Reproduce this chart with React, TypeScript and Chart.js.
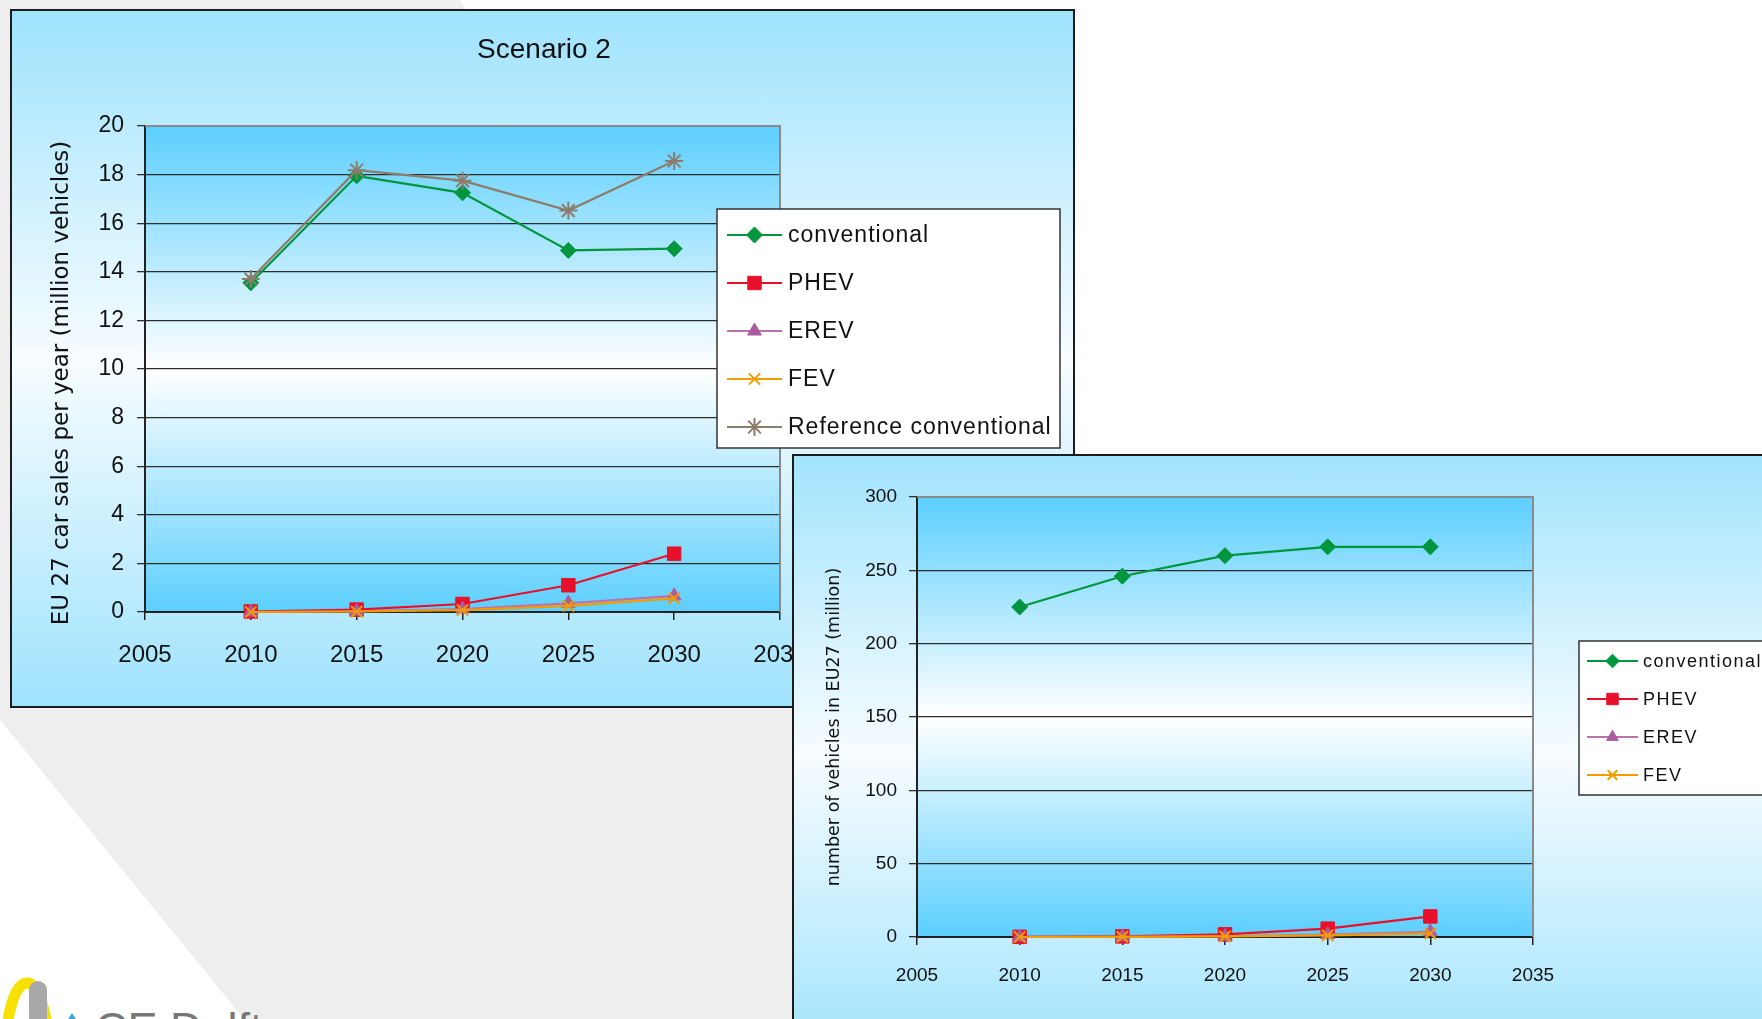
import React, { useEffect, useRef } from 'react';
import { Chart, registerables } from 'chart.js';
import { drawPoint } from 'chart.js/helpers';

Chart.register(...registerables);

// ---- data ---------------------------------------------------------------

const YEARS = [2010, 2015, 2020, 2025, 2030];
const YEAR_TICKS = [2005, 2010, 2015, 2020, 2025, 2030, 2035];

// Scenario 2: EU27 car sales per year (million vehicles)
const SALES_CONVENTIONAL = [13.55, 17.95, 17.25, 14.88, 14.95];
const SALES_PHEV = [0.02, 0.1, 0.33, 1.1, 2.4];
const SALES_EREV = [0.0, 0.03, 0.12, 0.36, 0.66];
const SALES_FEV = [0.0, 0.02, 0.08, 0.25, 0.56];
const SALES_REFERENCE = [13.7, 18.18, 17.75, 16.52, 18.56];
const SALES_TICKS = [0, 2, 4, 6, 8, 10, 12, 14, 16, 18, 20];

// Number of vehicles in EU27 (million)
const FLEET_CONVENTIONAL = [225, 246, 260, 266, 266];
const FLEET_PHEV = [0.1, 0.4, 1.8, 5.7, 14];
const FLEET_EREV = [0.0, 0.1, 0.5, 1.6, 3.5];
const FLEET_FEV = [0.0, 0.1, 0.4, 1.1, 2.5];
const FLEET_TICKS = [0, 50, 100, 150, 200, 250, 300];

const SERIES_LABELS = ['conventional', 'PHEV', 'EREV', 'FEV', 'Reference conventional'];
const SALES_TITLE = 'Scenario 2';
const SALES_AXIS_TITLE = 'EU 27 car sales per year (million vehicles)';
const FLEET_AXIS_TITLE = 'number of vehicles in EU27 (million)';
const LOGO_TEXT = 'CE Delft';

// ---- styling ------------------------------------------------------------

const SANS = "'Liberation Sans', Arial, sans-serif";
const WIDE = "'DejaVu Sans', Verdana, sans-serif";

const SERIES_STYLE = [
  { line: '#00963e', fill: '#00963e', stroke: '#00963e', shape: 'rectRot', radius: 8, bw: 1 },
  { line: '#e8102a', fill: '#e8102a', stroke: '#e8102a', shape: 'rect', radius: 9.5, bw: 1 },
  { line: '#bb72ae', fill: '#ab5c9e', stroke: '#ab5c9e', shape: 'triangle', radius: 8, bw: 1 },
  { line: '#f39c00', fill: 'rgba(0,0,0,0)', stroke: '#f39c00', shape: 'crossRot', radius: 8, bw: 2 },
  { line: '#8c7c6a', fill: 'rgba(0,0,0,0)', stroke: '#8c7c6a', shape: 'star', radius: 9, bw: 2 },
];

function makeDatasets(valueSets: number[][]) {
  return valueSets.map((vals, i) => {
    const st = SERIES_STYLE[i];
    return {
      label: SERIES_LABELS[i],
      data: YEARS.map((x, k) => ({ x, y: vals[k] })),
      borderColor: st.line,
      backgroundColor: st.fill,
      borderWidth: 2.2,
      pointStyle: st.shape,
      pointRadius: st.radius,
      pointHoverRadius: st.radius,
      pointBackgroundColor: st.fill,
      pointBorderColor: st.stroke,
      pointBorderWidth: st.bw,
      tension: 0,
      clip: false,
      order: valueSets.length - i,
    };
  });
}

interface LegendLayout {
  left: number; top: number; right: number; bottom: number;
  firstRow: number; rowGap: number; lineX1: number; lineX2: number; textX: number;
  font: string; spacing: string; markerScale: number;
}

interface PanelLayout {
  width: number; height: number;
  area: { left: number; top: number; right: number; bottom: number };
  xHeight: number;
  tickSize: number; yTickSize: number; xPad: number; yPad: number;
  yMax: number; yTicks: number[];
  title?: string; titleFont?: string; titleX?: number; titleY?: number;
  axisTitle: string; axisTitleFont: string; axisTitleX: number; axisTitleY: number;
  legend: LegendLayout;
}

function decorPlugin(L: PanelLayout) {
  return {
    id: 'decor',
    beforeDraw(chart: any) {
      const { ctx, chartArea: a } = chart;
      const g = ctx.createLinearGradient(0, a.top, 0, a.bottom);
      g.addColorStop(0, '#5ccfff');
      g.addColorStop(0.5, '#ffffff');
      g.addColorStop(1, '#5ccfff');
      ctx.save();
      ctx.fillStyle = g;
      ctx.fillRect(a.left, a.top, a.right - a.left, a.bottom - a.top);
      ctx.restore();
    },
    beforeDatasetsDraw(chart: any) {
      const { ctx, chartArea: a } = chart;
      ctx.save();
      ctx.strokeStyle = '#8a8a8a';
      ctx.lineWidth = 2;
      ctx.beginPath();
      ctx.moveTo(a.left, a.top);
      ctx.lineTo(a.right, a.top);
      ctx.lineTo(a.right, a.bottom);
      ctx.stroke();
      ctx.restore();
    },
    afterDraw(chart: any) {
      const ctx = chart.ctx as CanvasRenderingContext2D;
      ctx.save();
      ctx.fillStyle = '#111';
      ctx.textAlign = 'center';
      ctx.textBaseline = 'middle';
      if (L.title) {
        ctx.font = L.titleFont!;
        ctx.fillText(L.title, L.titleX!, L.titleY!);
      }
      ctx.save();
      ctx.translate(L.axisTitleX, L.axisTitleY);
      ctx.rotate(-Math.PI / 2);
      ctx.font = L.axisTitleFont;
      ctx.fillText(L.axisTitle, 0, 0);
      ctx.restore();

      // legend box
      const g = L.legend;
      ctx.fillStyle = '#ffffff';
      ctx.fillRect(g.left, g.top, g.right - g.left, g.bottom - g.top);
      ctx.strokeStyle = '#333';
      ctx.lineWidth = 1.5;
      ctx.strokeRect(g.left, g.top, g.right - g.left, g.bottom - g.top);
      chart.data.datasets.forEach((ds: any, i: number) => {
        const y = g.firstRow + i * g.rowGap;
        ctx.strokeStyle = ds.borderColor;
        ctx.lineWidth = 2;
        ctx.beginPath();
        ctx.moveTo(g.lineX1, y);
        ctx.lineTo(g.lineX2, y);
        ctx.stroke();
        ctx.fillStyle = ds.pointBackgroundColor;
        ctx.strokeStyle = ds.pointBorderColor;
        ctx.lineWidth = ds.pointBorderWidth;
        drawPoint(ctx, {
          pointStyle: ds.pointStyle,
          rotation: 0,
          radius: ds.pointRadius * g.markerScale,
          borderWidth: ds.pointBorderWidth,
        } as any, (g.lineX1 + g.lineX2) / 2, y);
        ctx.fillStyle = '#111';
        ctx.font = g.font;
        (ctx as any).letterSpacing = g.spacing;
        ctx.textAlign = 'left';
        ctx.textBaseline = 'middle';
        ctx.fillText(ds.label, g.textX, y + 1);
        (ctx as any).letterSpacing = '0px';
      });
      ctx.restore();
    },
  };
}

function LinePanel({ layout, valueSets }: { layout: PanelLayout; valueSets: number[][] }) {
  const ref = useRef<HTMLCanvasElement>(null);
  useEffect(() => {
    const L = layout;
    const chart = new Chart(ref.current as HTMLCanvasElement, {
      type: 'line',
      data: { datasets: makeDatasets(valueSets) as any },
      plugins: [decorPlugin(L) as any],
      options: {
        responsive: false,
        animation: false,
        devicePixelRatio: 1,
        layout: {
          padding: {
            left: 0,
            top: L.area.top,
            right: L.width - L.area.right,
            bottom: L.height - L.area.bottom - L.xHeight,
          },
        },
        plugins: { legend: { display: false }, tooltip: { enabled: false }, title: { display: false } },
        scales: {
          x: {
            type: 'linear',
            min: YEAR_TICKS[0],
            max: YEAR_TICKS[YEAR_TICKS.length - 1],
            afterBuildTicks: (s: any) => { s.ticks = YEAR_TICKS.map((v) => ({ value: v })); },
            afterFit: (s: any) => { s.height = L.xHeight; },
            ticks: {
              callback: (v: any) => String(v),
              font: { family: SANS, size: L.tickSize },
              color: '#111',
              padding: L.xPad,
              maxRotation: 0,
              autoSkip: false,
            },
            grid: { drawOnChartArea: false, drawTicks: true, tickLength: 8, color: '#222', lineWidth: 1.5 },
            border: { display: true, color: '#222', width: 2 },
          },
          y: {
            type: 'linear',
            min: 0,
            max: L.yMax,
            afterBuildTicks: (s: any) => { s.ticks = L.yTicks.map((v) => ({ value: v })); },
            afterFit: (s: any) => { s.width = L.area.left; },
            ticks: {
              callback: (v: any) => String(v),
              font: { family: SANS, size: L.yTickSize },
              color: '#111',
              padding: L.yPad,
            },
            grid: { color: '#2e2e2e', lineWidth: 1.3, tickLength: 8, tickColor: '#2e2e2e' },
            border: { display: true, color: '#222', width: 2 },
          },
        },
      } as any,
    });
    return () => chart.destroy();
  }, []);
  return (
    <canvas
      ref={ref}
      width={layout.width}
      height={layout.height}
      style={{ display: 'block', width: layout.width, height: layout.height }}
    />
  );
}

// ---- panels -------------------------------------------------------------

const salesLayout: PanelLayout = {
  width: 1061,
  height: 695,
  area: { left: 133, top: 115, right: 768, bottom: 601 },
  xHeight: 60,
  tickSize: 24,
  yTickSize: 23,
  xPad: 21,
  yPad: 13,
  yMax: 20,
  yTicks: SALES_TICKS,
  title: SALES_TITLE,
  titleFont: `28px ${SANS}`,
  titleX: 532,
  titleY: 39,
  axisTitle: SALES_AXIS_TITLE,
  axisTitleFont: `23px ${WIDE}`,
  axisTitleX: 50,
  axisTitleY: 372,
  legend: {
    left: 705, top: 198, right: 1048, bottom: 437,
    firstRow: 224, rowGap: 48, lineX1: 715, lineX2: 770, textX: 776,
    font: `23px ${SANS}`, spacing: '1px', markerScale: 1,
  },
};

const fleetLayout: PanelLayout = {
  width: 968,
  height: 563,
  area: { left: 123, top: 41, right: 739, bottom: 481 },
  xHeight: 50,
  tickSize: 19,
  yTickSize: 19,
  xPad: 19,
  yPad: 12,
  yMax: 300,
  yTicks: FLEET_TICKS,
  axisTitle: FLEET_AXIS_TITLE,
  axisTitleFont: `17.5px ${WIDE}`,
  axisTitleX: 40,
  axisTitleY: 271,
  legend: {
    left: 785, top: 185, right: 1000, bottom: 339,
    firstRow: 205, rowGap: 38, lineX1: 793, lineX2: 844, textX: 849,
    font: `18px ${SANS}`, spacing: '1.5px', markerScale: 0.85,
  },
};

function Logo() {
  return (
    <svg
      width={320}
      height={60}
      style={{ position: 'absolute', left: 0, top: 959 }}
    >
      <ellipse cx={27} cy={90} rx={21} ry={66} fill="none" stroke="#f6e100" strokeWidth={11} />
      <rect x={29} y={22} width={18} height={60} rx={9} fill="#a8a8aa" />
      <path d="M 68 60 L 72 54 L 76 60 Z" fill="#3fa8df" />
      <text x={95} y={85} fontFamily={SANS} fontSize={45} fill="#777777">{LOGO_TEXT}</text>
    </svg>
  );
}

export default function App() {
  return (
    <div
      style={{
        position: 'fixed',
        left: 0,
        top: 0,
        width: 1762,
        height: 1019,
        overflow: 'hidden',
        background: '#ffffff',
      }}
    >
      <div
        style={{
          position: 'absolute',
          inset: 0,
          background: '#eeeeee',
          clipPath: 'polygon(0px 0px, 460px 0px, 1100px 1019px, 244px 1019px, 0px 720px)',
        }}
      />
      <Logo />
      <div
        style={{
          position: 'absolute',
          left: 10,
          top: 9,
          width: 1065,
          height: 699,
          boxSizing: 'border-box',
          border: '2px solid #1c1c1c',
          background: 'linear-gradient(to bottom, #9fe3fd 0%, #f7fcff 50%, #9fe3fd 100%)',
        }}
      >
        <LinePanel
          layout={salesLayout}
          valueSets={[SALES_CONVENTIONAL, SALES_PHEV, SALES_EREV, SALES_FEV, SALES_REFERENCE]}
        />
      </div>
      <div
        style={{
          position: 'absolute',
          left: 792,
          top: 454,
          width: 1000,
          height: 600,
          boxSizing: 'border-box',
          border: '2px solid #1c1c1c',
          background: 'linear-gradient(to bottom, #a2e4fd 0%, #f7fcff 50%, #a2e4fd 100%)',
        }}
      >
        <LinePanel
          layout={fleetLayout}
          valueSets={[FLEET_CONVENTIONAL, FLEET_PHEV, FLEET_EREV, FLEET_FEV]}
        />
      </div>
    </div>
  );
}
